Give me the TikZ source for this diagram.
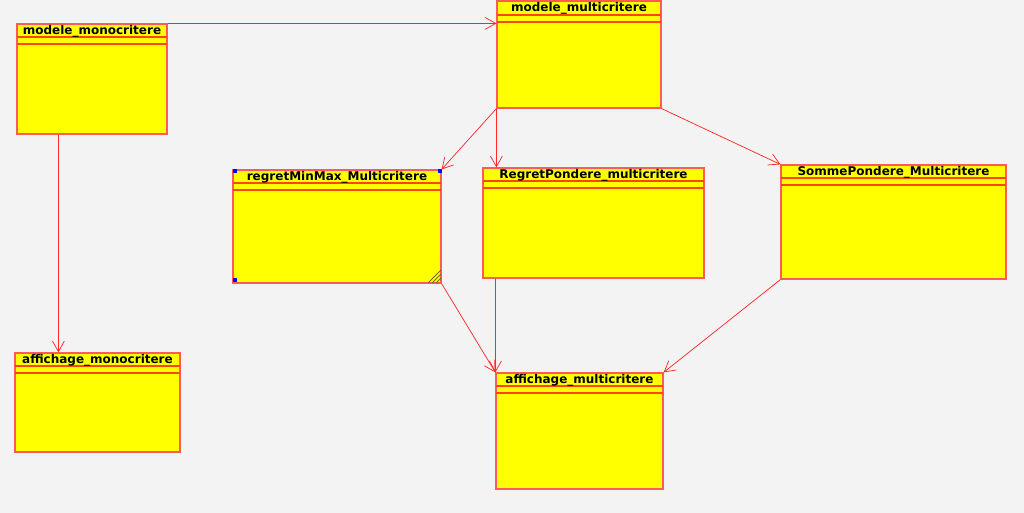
\documentclass[tikz,border=0pt]{standalone}
\usepackage{fontspec}
\setmainfont{DejaVu Sans}
\usetikzlibrary{arrows.meta,fit}
\definecolor{bg}{RGB}{243,243,243}
\definecolor{boxfill}{RGB}{255,255,0}
\definecolor{boxline}{RGB}{255,90,90}
\definecolor{sepline}{RGB}{255,70,0}
\definecolor{edgecol}{RGB}{255,40,40}
\definecolor{handle}{RGB}{0,0,255}
\definecolor{hatch}{RGB}{110,110,0}
\tikzset{
  umlbox/.style={draw=boxline, fill=boxfill, line width=0.9pt, inner sep=0pt, rectangle},
  sepl/.style={draw=sepline, line width=0.9pt},
  umltitle/.style={font=\bfseries\fontsize{9pt}{10pt}\selectfont, inner sep=0pt, text=black},
  edge/.style={draw=edgecol, line width=0.55pt, -{Straight Barb[length=8pt,width=9pt,line width=0.55pt]}},
  hnd/.style={fill=handle, draw=none},
  hatchl/.style={draw=hatch, line width=0.6pt}
}
\begin{document}
\begin{tikzpicture}[x=0.75pt,y=-0.75pt]
\useasboundingbox (0,0) rectangle (1024,513);
\fill[bg] (0,0) rectangle (1024,513);

% boxes
\node[umlbox, fit={(17,24) (167,134)}] (mono) {};
\draw[sepl] (17,37) -- (167,37) (17,44) -- (167,44);
\node[umltitle] (mono-t) at (92,31.5) {modele\_monocritere};

\node[umlbox, fit={(497,1) (661,108)}] (multi) {};
\draw[sepl] (497,15) -- (661,15) (497,22) -- (661,22);
\node[umltitle] (multi-t) at (579,8.5) {modele\_multicritere};

\node[umlbox, fit={(233,170) (441,283)}] (rmm) {};
\draw[sepl] (233,183) -- (441,183) (233,190) -- (441,190);
\node[umltitle] (rmm-t) at (337,177) {regretMinMax\_Multicritere};

\node[umlbox, fit={(483,168) (704,278)}] (rp) {};
\draw[sepl] (483,181) -- (704,181) (483,188) -- (704,188);
\node[umltitle] (rp-t) at (593.5,175) {RegretPondere\_multicritere};

\node[umlbox, fit={(781,165) (1006,279)}] (sp) {};
\draw[sepl] (781,178) -- (1006,178) (781,185) -- (1006,185);
\node[umltitle] (sp-t) at (893.5,172) {SommePondere\_Multicritere};

\node[umlbox, fit={(15,353) (180,452)}] (amono) {};
\draw[sepl] (15,366) -- (180,366) (15,373) -- (180,373);
\node[umltitle] (amono-t) at (97.5,360) {affichage\_monocritere};

\node[umlbox, fit={(496,373) (663,489)}] (amulti) {};
\draw[sepl] (496,386) -- (663,386) (496,393) -- (663,393);
\node[umltitle] (amulti-t) at (579.5,380) {affichage\_multicritere};

% selection handles on regretMinMax
\fill[hnd] (232.5,169.5) rectangle (236.5,173);
\fill[hnd] (437.5,169.5) rectangle (441.5,173);
\fill[hnd] (232.5,278.5) rectangle (236.5,282.5);
\draw[hatchl] (428,283) -- (441,270) (432,283) -- (441,274) (436,283) -- (441,278);

% connectors
\draw[edge] (mono.north east) -- (multi.west |- mono.north east);
\draw[edge] ([xshift=31.5pt]mono.south west) -- ([xshift=31.5pt]mono.south west |- amono.north);
\draw[edge] (multi.south west) -- (rmm.north east);
\draw[edge] (multi.south west) -- (multi.south west |- rp.north);
\draw[edge] (multi.south east) -- (sp.north west);
\draw[edge] (rmm.south east) -- (amulti.north west);
\draw[edge] (amulti.north west |- rp.south) -- (amulti.north west);
\draw[edge] (sp.south west) -- (amulti.north east);
\end{tikzpicture}
\end{document}
